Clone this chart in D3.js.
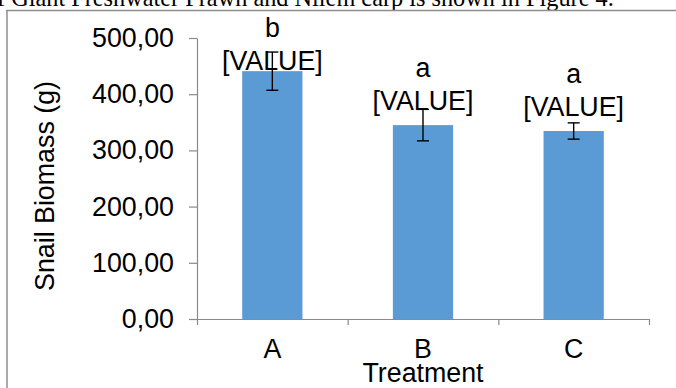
<!DOCTYPE html>
<html><head><meta charset="utf-8">
<script src="https://cdn.jsdelivr.net/npm/d3@7"></script>
<style>
html,body{margin:0;padding:0;background:#fff;overflow:hidden}
svg{display:block}
text{font-family:"Liberation Sans",Arial,sans-serif;fill:#000}
</style></head>
<body>
<script>
const categories = ["A","B","C"];
const means = [441, 345, 334.5];
const errors = [34, 28, 14.5];
const letters = ["b","a","a"];
const dataLabels = ["[VALUE]","[VALUE]","[VALUE]"];
const yTicks = [0,100,200,300,400,500];
const yTitle = "Snail Biomass (g)";
const xTitle = "Treatment";
const captionText = "f Giant Freshwater Prawn and Nilem carp is shown in Figure 4.";

const W = 676, H = 388;
const FS = "26.8px";
const svg = d3.select("body").append("svg").attr("width", W).attr("height", H);

// caption (cut off at top)
svg.append("text").attr("x", -3).attr("y", 6)
  .style("font-family", "'Liberation Serif','Times New Roman',serif")
  .style("font-size", "24.3px").text(captionText);

// frame
const frame = "#8e8e8e";
svg.append("line").attr("x1", 6).attr("x2", W).attr("y1", 10.5).attr("y2", 10.5)
  .attr("stroke", frame).attr("stroke-width", 1.5);
svg.append("line").attr("x1", 7).attr("x2", 7).attr("y1", 10).attr("y2", H)
  .attr("stroke", frame).attr("stroke-width", 1.5);

const x0 = 197, x1 = 649, yTop = 38, yBot = 319;
const y = d3.scaleLinear().domain([0, 500]).range([yBot, yTop]);
const x = d3.scaleBand().domain(categories).range([x0, x1]).paddingInner(0.6).paddingOuter(0.3);
const xb = d3.scaleLinear().domain([0, categories.length]).range([x0, x1]);

const loc = d3.formatLocale({decimal: ",", thousands: ".", grouping: [3], currency: ["", ""]});
const fmt = loc.format(".2f");

const axisColor = "#8a8a8a";

// bars
svg.append("g").selectAll("rect").data(categories).join("rect")
  .attr("x", d => x(d)).attr("width", x.bandwidth())
  .attr("y", (d, i) => y(means[i])).attr("height", (d, i) => yBot - y(means[i]))
  .attr("fill", "#5b9bd5");

// y axis
const ya = svg.append("g").attr("transform", `translate(${x0},0)`)
  .call(d3.axisLeft(y).tickValues(yTicks).tickFormat(fmt).tickSize(8).tickSizeOuter(0).tickPadding(15));
ya.selectAll("path,line").attr("stroke", axisColor).attr("stroke-width", 1.2);
ya.selectAll("text").style("font-size", FS).style("font-family", "'Liberation Sans',Arial,sans-serif").attr("fill", "#000");

// x axis (boundary ticks)
const xa = svg.append("g").attr("transform", `translate(0,${yBot})`)
  .call(d3.axisBottom(xb).tickValues(d3.range(categories.length + 1)).tickFormat("").tickSize(6).tickSizeOuter(0));
xa.selectAll("path,line").attr("stroke", axisColor).attr("stroke-width", 1.2);

// category labels
svg.append("g").selectAll("text").data(categories).join("text")
  .attr("x", d => x(d) + x.bandwidth() / 2).attr("y", 358)
  .attr("text-anchor", "middle").style("font-size", FS).text(d => d);

// error bars
const eb = svg.append("g").attr("stroke", "#000").attr("stroke-width", 1.4);
categories.forEach((c, i) => {
  const cx = x(c) + x.bandwidth() / 2;
  const hi = y(means[i] + errors[i]), lo = y(means[i] - errors[i]);
  eb.append("line").attr("x1", cx).attr("x2", cx).attr("y1", hi).attr("y2", lo);
  eb.append("line").attr("x1", cx - 6).attr("x2", cx + 6).attr("y1", hi).attr("y2", hi);
  eb.append("line").attr("x1", cx - 6).attr("x2", cx + 6).attr("y1", lo).attr("y2", lo);
});

// data labels
const lab = svg.append("g");
categories.forEach((c, i) => {
  const cx = x(c) + x.bandwidth() / 2;
  const base = Math.max(y(means[i]) - 15, 70);
  lab.append("text").attr("x", cx).attr("y", base).attr("text-anchor", "middle")
    .style("font-size", FS).text(dataLabels[i]);
  lab.append("text").attr("x", cx).attr("y", base - 33).attr("text-anchor", "middle")
    .style("font-size", FS).text(letters[i]);
});

// axis titles
svg.append("text").attr("x", (x0 + x1) / 2).attr("y", 381.5).attr("text-anchor", "middle")
  .style("font-size", FS).text(xTitle);
svg.append("text").attr("transform", "translate(54,186) rotate(-90)").attr("text-anchor", "middle")
  .style("font-size", FS).text(yTitle);
</script>
</body></html>
